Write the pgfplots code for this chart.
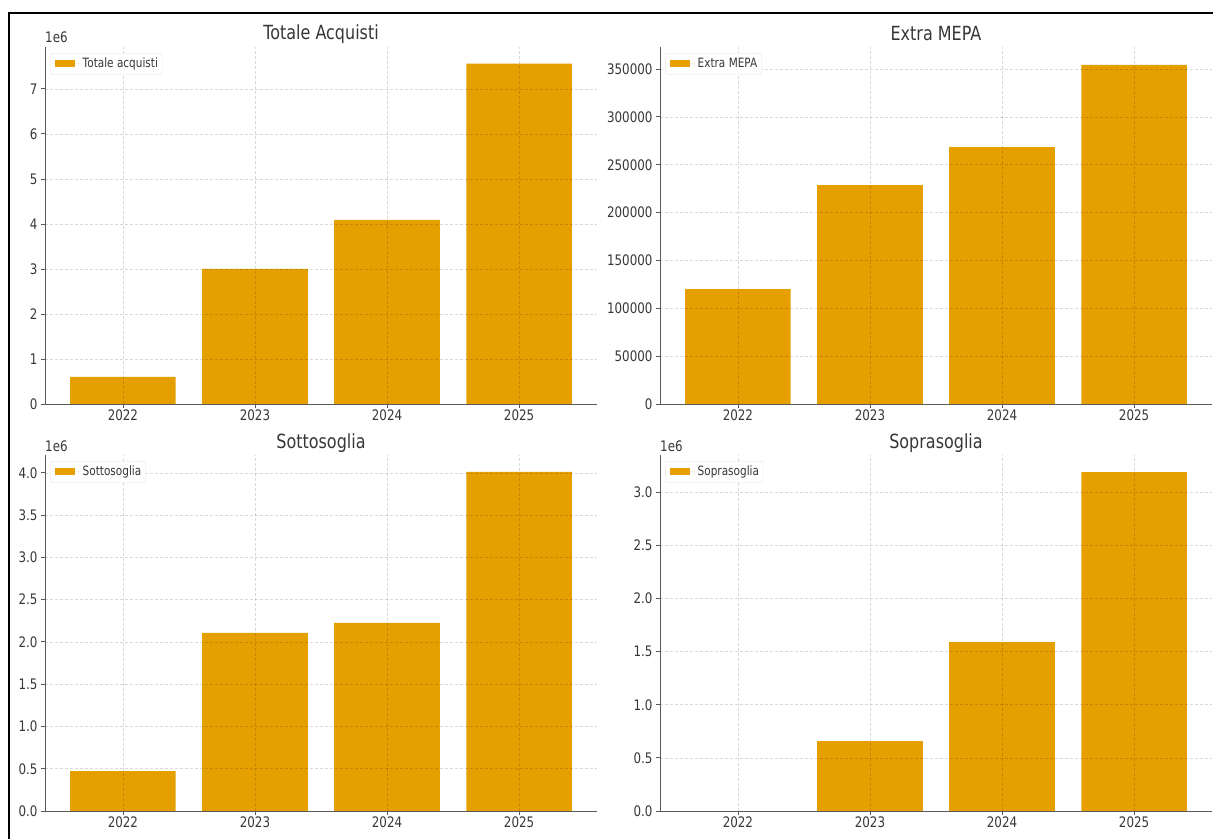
\documentclass[border=0pt]{standalone}
\usepackage{fontspec}
\setmainfont{DejaVu Sans}[FakeStretch=0.82]
\usepackage{pgfplots}
\pgfplotsset{compat=1.18}

\definecolor{barorange}{RGB}{230,159,0}
\definecolor{txt}{RGB}{55,55,55}
\definecolor{spine}{RGB}{90,90,90}

\pgfplotsset{
  panel/.style={
    scale only axis, width=552pt,
    ybar, bar width=0.8,
    xmin=-0.59, xmax=3.59, ymin=0,
    xtick={0,1,2,3}, xticklabels={2022,2023,2024,2025},
    axis lines=left, axis line style={-, draw=spine, line width=0.9pt},
    tick align=outside, major tick length=4pt,
    tick style={draw=spine, line width=0.8pt},
    xmajorgrids, ymajorgrids,
    grid style={densely dashed, black, opacity=0.15, line width=0.5pt},
    axis on top, clip=false,
    scaled y ticks=false,
    ticklabel style={font=\fontsize{14.5}{16}\selectfont, text=txt},
    xticklabel style={yshift=2pt},
    /pgf/number format/assume math mode=true,
    title style={font=\fontsize{19.5}{22}\selectfont, text=txt, at={(0.5,1)}, anchor=base, yshift=1pt, inner sep=0pt},
    legend style={at={(0.010,0.983)}, anchor=north west, draw=black!12,
      rounded corners=2pt, font=\fontsize{12.8}{14}\selectfont, text=txt,
      inner xsep=2pt, inner ysep=3pt},
    legend image code/.code={
      \path (0pt,0pt) -- (28pt,0pt);
      \fill[barorange, sharp corners] (2pt,-3.5pt) rectangle (22pt,3.5pt);},
    legend cell align=left,
  },
  millions/.style={
    yticklabel style={/pgf/number format/.cd, fixed, fixed zerofill, precision=#1},
  },
}
\newcommand{\sixlabel}{\node[anchor=base west, font=\fontsize{14.5}{16}\selectfont, text=txt, inner sep=0pt, yshift=4pt] at (rel axis cs:0,1) {1e6};}

\begin{document}
\begin{tikzpicture}
\useasboundingbox (0,0) rectangle (1213pt,-839pt);
\draw[black, line width=1.2pt] (9pt,-839pt) -- (9pt,-13pt) -- (1213pt,-13pt);

% values in millions (1e6)
\begin{axis}[panel, millions=0, at={(45pt,-404pt)}, anchor=south west, height=357pt,
  ymax=7.93, ytick={0,1,...,7}, title={Totale Acquisti}]
\addplot[fill=barorange, draw=none] coordinates {(0,0.60) (1,3.00) (2,4.09) (3,7.56)};
\addlegendentry{Totale acquisti}
\sixlabel
\end{axis}

\begin{axis}[panel, at={(660pt,-404pt)}, anchor=south west, height=357pt,
  ymax=373000, ytick={0,50000,...,350000},
  yticklabel style={/pgf/number format/.cd, fixed, 1000 sep={}},
  title={Extra MEPA}]
\addplot[fill=barorange, draw=none] coordinates {(0,120100) (1,228800) (2,268500) (3,354200)};
\addlegendentry{Extra MEPA}
\end{axis}

\begin{axis}[panel, millions=1, at={(45pt,-811pt)}, anchor=south west, height=356pt,
  ymax=4.21, ytick={0,0.5,...,4}, title={Sottosoglia}]
\addplot[fill=barorange, draw=none] coordinates {(0,0.473) (1,2.107) (2,2.225) (3,4.01)};
\addlegendentry{Sottosoglia}
\sixlabel
\end{axis}

\begin{axis}[panel, millions=1, at={(660pt,-811pt)}, anchor=south west, height=356pt,
  ymax=3.35, ytick={0,0.5,...,3}, title={Soprasoglia}]
\addplot[fill=barorange, draw=none] coordinates {(0,0) (1,0.658) (2,1.59) (3,3.19)};
\addlegendentry{Soprasoglia}
\sixlabel
\end{axis}
\end{tikzpicture}
\end{document}
